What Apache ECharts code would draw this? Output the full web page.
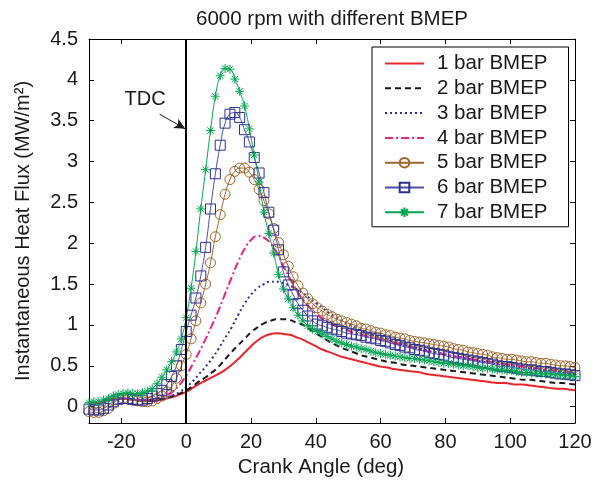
<!DOCTYPE html>
<html>
<head>
<meta charset="utf-8">
<script src="https://cdn.jsdelivr.net/npm/echarts@6/dist/echarts.min.js"></script>
<style>
html,body{margin:0;padding:0;background:#fff;}
#chart{width:606px;height:484px;}
</style>
</head>
<body>
<div id="chart"></div>
<script>
// Crank angle grid for the plain-line series (deg)
const crankAngle = [-30,-28,-26,-24,-22,-20,-18,-16,-14,-12,-10,-8,-6,-4,-2,0,2,4,6,8,10,12,14,16,18,20,22,24,26,28,30,32,34,36,38,40,42,44,46,48,50,52,54,56,58,60,62,64,66,68,70,72,74,76,78,80,82,84,86,88,90,92,94,96,98,100,102,104,106,108,110,112,114,116,118,120];
// Crank angle grid for the marker series (deg)
const crankAngleMk = [
  -30,-28.5,-27,-25.5,-24,-22.5,-21,-19.5,-18,-16.5,
  -15,-13.5,-12,-10.5,-9,-7.5,-6,-4.5,-3,-1.5,
  0,1.5,3,4.5,6,7.5,9,10.5,12,13.5,
  15,16.5,18,19.5,21,22.5,24,25.5,27,28.5,
  30,31.5,33,34.5,36,37.5,39,40.5,42,43.5,
  45,46.5,48,49.5,51,52.5,54,55.5,57,58.5,
  60,61.5,63,64.5,66,67.5,69,70.5,72,73.5,
  75,76.5,78,79.5,81,82.5,84,85.5,87,88.5,
  90,91.5,93,94.5,96,97.5,99,100.5,102,103.5,
  105,106.5,108,109.5,111,112.5,114,115.5,117,118.5,
  120];

const bar1 = [0.03,0.04,0.06,0.08,0.09,0.10,0.09,0.08,0.07,0.07,0.07,0.08,0.10,0.12,0.15,0.18,0.23,0.28,0.32,0.36,0.40,0.45,0.51,0.58,0.66,0.74,0.81,0.86,0.89,0.90,0.89,0.88,0.85,0.82,0.78,0.74,0.70,0.67,0.64,0.61,0.59,0.57,0.55,0.53,0.51,0.49,0.48,0.46,0.45,0.44,0.43,0.42,0.40,0.39,0.38,0.37,0.36,0.35,0.34,0.33,0.32,0.31,0.30,0.29,0.29,0.28,0.27,0.27,0.26,0.25,0.24,0.23,0.22,0.22,0.21,0.20];
const bar2 = [0.03,0.04,0.06,0.08,0.10,0.10,0.10,0.09,0.08,0.08,0.08,0.09,0.11,0.13,0.16,0.20,0.25,0.31,0.36,0.42,0.49,0.58,0.67,0.75,0.83,0.91,0.97,1.02,1.05,1.07,1.07,1.06,1.03,1.00,0.95,0.90,0.85,0.80,0.76,0.72,0.69,0.66,0.63,0.61,0.59,0.57,0.55,0.54,0.52,0.51,0.50,0.49,0.48,0.47,0.46,0.45,0.44,0.43,0.42,0.41,0.40,0.39,0.38,0.37,0.36,0.35,0.34,0.33,0.33,0.32,0.31,0.30,0.29,0.29,0.28,0.27];
const bar3 = [0.02,0.03,0.05,0.07,0.09,0.10,0.10,0.09,0.08,0.08,0.08,0.09,0.11,0.14,0.18,0.24,0.31,0.40,0.49,0.59,0.71,0.84,0.97,1.12,1.26,1.37,1.45,1.50,1.53,1.53,1.51,1.48,1.44,1.39,1.33,1.27,1.21,1.15,1.10,1.05,1.01,0.97,0.93,0.90,0.87,0.84,0.82,0.79,0.77,0.75,0.73,0.71,0.69,0.67,0.66,0.64,0.62,0.61,0.59,0.58,0.56,0.55,0.54,0.52,0.51,0.50,0.49,0.48,0.47,0.46,0.45,0.44,0.43,0.42,0.41,0.40];
const bar4 = [0.03,0.04,0.06,0.08,0.10,0.10,0.10,0.09,0.08,0.08,0.09,0.11,0.14,0.19,0.27,0.38,0.52,0.67,0.83,1.00,1.18,1.38,1.58,1.77,1.93,2.04,2.09,2.07,2.00,1.88,1.72,1.57,1.43,1.31,1.22,1.14,1.08,1.03,0.99,0.96,0.93,0.90,0.88,0.86,0.84,0.82,0.80,0.78,0.76,0.74,0.72,0.70,0.68,0.67,0.65,0.64,0.62,0.61,0.60,0.58,0.57,0.56,0.55,0.53,0.52,0.51,0.50,0.49,0.48,0.47,0.46,0.45,0.44,0.43,0.42,0.41];
const bar5 = [
  -0.06,-0.07,-0.07,-0.05,-0.02,0.04,0.09,0.10,0.09,0.08,
  0.07,0.06,0.06,0.07,0.10,0.13,0.18,0.25,0.35,0.50,
  0.64,0.83,1.05,1.27,1.50,1.76,2.08,2.35,2.60,2.78,
  2.88,2.92,2.92,2.87,2.78,2.66,2.52,2.36,2.18,2.01,
  1.86,1.72,1.59,1.48,1.39,1.32,1.26,1.21,1.17,1.13,
  1.10,1.07,1.05,1.03,1.01,0.99,0.96,0.95,0.93,0.91,
  0.90,0.88,0.87,0.85,0.84,0.83,0.81,0.80,0.79,0.78,
  0.77,0.76,0.75,0.74,0.73,0.71,0.70,0.69,0.67,0.66,
  0.65,0.64,0.63,0.61,0.60,0.59,0.58,0.58,0.57,0.56,
  0.55,0.55,0.54,0.53,0.53,0.52,0.51,0.50,0.50,0.49,
  0.48];
const bar6 = [
  -0.03,-0.04,-0.04,-0.02,0.02,0.06,0.09,0.10,0.10,0.09,
  0.08,0.08,0.10,0.13,0.16,0.20,0.27,0.37,0.50,0.70,
  0.92,1.12,1.33,1.60,1.95,2.42,2.85,3.20,3.47,3.58,
  3.60,3.54,3.39,3.24,3.05,2.86,2.62,2.38,2.16,1.92,
  1.65,1.49,1.37,1.26,1.18,1.11,1.05,1.01,0.99,0.97,
  0.95,0.94,0.92,0.90,0.89,0.88,0.87,0.85,0.84,0.83,
  0.81,0.80,0.78,0.76,0.75,0.73,0.72,0.70,0.69,0.68,
  0.66,0.65,0.64,0.63,0.61,0.60,0.59,0.58,0.57,0.56,
  0.55,0.54,0.53,0.52,0.50,0.49,0.49,0.48,0.47,0.46,
  0.45,0.45,0.44,0.43,0.43,0.42,0.41,0.40,0.40,0.39,
  0.38];
const bar7 = [
  0.05,0.06,0.06,0.08,0.10,0.13,0.15,0.16,0.17,0.16,
  0.16,0.17,0.19,0.22,0.28,0.36,0.45,0.55,0.67,0.83,
  1.09,1.45,1.90,2.42,2.90,3.38,3.80,4.05,4.14,4.13,
  4.01,3.86,3.68,3.40,3.08,2.75,2.38,2.12,1.88,1.62,
  1.44,1.32,1.21,1.12,1.05,0.99,0.95,0.92,0.89,0.86,
  0.83,0.80,0.78,0.76,0.74,0.73,0.71,0.70,0.68,0.66,
  0.65,0.64,0.63,0.62,0.61,0.60,0.59,0.59,0.58,0.57,
  0.56,0.55,0.54,0.53,0.53,0.52,0.51,0.50,0.50,0.49,
  0.48,0.47,0.47,0.46,0.45,0.45,0.44,0.44,0.43,0.42,
  0.42,0.41,0.41,0.40,0.40,0.40,0.39,0.39,0.38,0.38,
  0.37];

const seriesNames = ['1 bar BMEP','2 bar BMEP','3 bar BMEP','4 bar BMEP','5 bar BMEP','6 bar BMEP','7 bar BMEP'];
const xTicks = [-20,0,20,40,60,80,100,120];
const yTicks = [0,0.5,1,1.5,2,2.5,3,3.5,4,4.5];
const tdcLine = [[0,-0.2],[0,4.5]];
const tdcArrow = [[-8.2,3.58],[-0.3,3.40]];
const tdcLabelPos = [-12.7,3.76];

const FONT = '"Liberation Sans", Arial, Helvetica, sans-serif';
const pairs = (xs, arr) => xs.map((x,i)=>[x,arr[i]]);
const star = 'path://M0,-5L0,5M-5,0L5,0M-3.5,-3.5L3.5,3.5M-3.5,3.5L3.5,-3.5';

const chart = echarts.init(document.getElementById('chart'), null, {renderer:'canvas'});

const axisCommon = {
  type:'value',
  axisLine:{show:true,onZero:false,lineStyle:{color:'#000',width:1}},
  splitLine:{show:false}
};

const option = {
  animation:false,
  backgroundColor:'#fff',
  textStyle:{fontFamily:FONT},
  title:{
    text:'6000 rpm with different BMEP',
    left:327, top:4, textAlign:'center',
    textStyle:{fontFamily:FONT,fontSize:20.5,fontWeight:'normal',color:'#1a1a1a'}
  },
  grid:{left:89,right:31,top:39,bottom:61,outerBoundsMode:'none',containLabel:false},
  legend:{
    orient:'vertical',
    left:372, top:47,
    padding:[6,21,4,12],
    itemWidth:39, itemHeight:12, itemGap:3.8,
    borderColor:'#000', borderWidth:1, backgroundColor:'#fff',
    textStyle:{fontFamily:FONT,fontSize:20.5,color:'#1a1a1a',lineHeight:20,padding:[0,0,0,8]},
    data:[
      {name:seriesNames[0],itemStyle:{opacity:0}},
      {name:seriesNames[1],itemStyle:{opacity:0}},
      {name:seriesNames[2],itemStyle:{opacity:0}},
      {name:seriesNames[3],itemStyle:{opacity:0}},
      {name:seriesNames[4]},
      {name:seriesNames[5]},
      {name:seriesNames[6]}
    ]
  },
  xAxis:[
    Object.assign({}, axisCommon, {
      min:-30,max:120,position:'bottom',
      name:'Crank Angle (deg)',nameLocation:'middle',nameGap:34,
      nameTextStyle:{fontFamily:FONT,fontSize:20.5,color:'#1a1a1a',padding:[0,22,0,0]},
      axisTick:{show:true,inside:true,length:5,customValues:xTicks,lineStyle:{color:'#000'}},
      axisLabel:{show:true,customValues:xTicks,margin:9,fontFamily:FONT,fontSize:20,color:'#1a1a1a'}
    }),
    Object.assign({}, axisCommon, {
      min:-30,max:120,position:'top',
      axisTick:{show:true,inside:true,length:5,customValues:xTicks,lineStyle:{color:'#000'}},
      axisLabel:{show:false}
    })
  ],
  yAxis:[
    Object.assign({}, axisCommon, {
      min:-0.2,max:4.5,position:'left',
      name:'Instantaneous Heat Flux (MW/m²)',nameLocation:'middle',nameGap:56,
      nameTextStyle:{fontFamily:FONT,fontSize:20,color:'#1a1a1a'},
      axisTick:{show:true,inside:true,length:5,customValues:yTicks,lineStyle:{color:'#000'}},
      axisLabel:{show:true,customValues:yTicks,margin:11,fontFamily:FONT,fontSize:20,color:'#1a1a1a'}
    }),
    Object.assign({}, axisCommon, {
      min:-0.2,max:4.5,position:'right',
      axisTick:{show:true,inside:true,length:5,customValues:yTicks,lineStyle:{color:'#000'}},
      axisLabel:{show:false}
    })
  ],
  series:[
    {
      name:seriesNames[0],type:'line',data:pairs(crankAngle,bar1),smooth:true,showSymbol:false,symbol:'none',
      lineStyle:{color:'#e8262b',width:2},itemStyle:{color:'#e8262b'},
      markLine:{
        silent:true,animation:false,symbol:'none',
        lineStyle:{color:'#000',width:2,type:'solid'},label:{show:false},
        data:[[{coord:tdcLine[0]},{coord:tdcLine[1]}]]
      }
    },
    {
      name:seriesNames[1],type:'line',data:pairs(crankAngle,bar2),smooth:true,showSymbol:false,symbol:'none',
      lineStyle:{color:'#1a1a1a',width:2,type:[6,4]},itemStyle:{color:'#1a1a1a'}
    },
    {
      name:seriesNames[2],type:'line',data:pairs(crankAngle,bar3),smooth:true,showSymbol:false,symbol:'none',
      lineStyle:{color:'#2b2f9a',width:2,type:[2,3]},itemStyle:{color:'#2b2f9a'}
    },
    {
      name:seriesNames[3],type:'line',data:pairs(crankAngle,bar4),smooth:true,showSymbol:false,symbol:'none',
      lineStyle:{color:'#e6218a',width:2,type:[8,3,2,3]},itemStyle:{color:'#e6218a'}
    },
    {
      name:seriesNames[4],type:'line',data:pairs(crankAngleMk,bar5),smooth:true,
      symbol:'circle',symbolSize:10,showSymbol:true,
      lineStyle:{color:'#a0652a',width:1},
      itemStyle:{color:'rgba(255,255,255,0)',borderColor:'#a0652a',borderWidth:1}
    },
    {
      name:seriesNames[5],type:'line',data:pairs(crankAngleMk,bar6),smooth:true,
      symbol:'rect',symbolSize:10,showSymbol:true,
      lineStyle:{color:'#4a4fa8',width:1},
      itemStyle:{color:'rgba(255,255,255,0)',borderColor:'#2e3192',borderWidth:1}
    },
    {
      name:seriesNames[6],type:'line',data:pairs(crankAngleMk,bar7),smooth:true,
      symbol:star,symbolSize:9,symbolKeepAspect:true,showSymbol:true,
      lineStyle:{color:'#00a651',width:1},
      itemStyle:{color:'#00a651',borderColor:'#00a651',borderWidth:1},
      markLine:{
        silent:true,animation:false,
        symbol:['none','arrow'],symbolSize:[8,11],
        lineStyle:{color:'#1a1a1a',width:1,type:'solid'},label:{show:false},
        data:[[{coord:tdcArrow[0]},{coord:tdcArrow[1]}]]
      },
      markPoint:{
        silent:true,animation:false,symbol:'circle',symbolSize:0,
        label:{show:true,formatter:'TDC',position:'inside',fontFamily:FONT,fontSize:20,color:'#1a1a1a'},
        data:[{coord:tdcLabelPos}]
      }
    }
  ]
};
chart.setOption(option);
</script>
</body>
</html>
